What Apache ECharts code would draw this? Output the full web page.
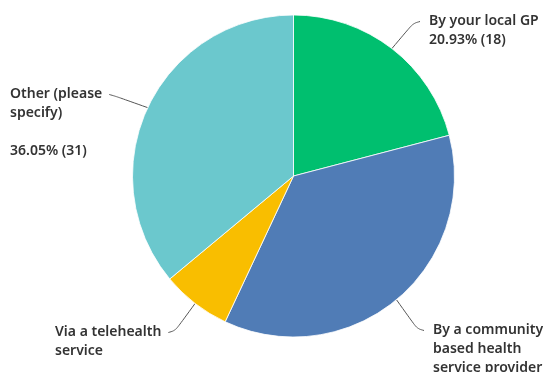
<!DOCTYPE html>
<html>
<head>
<meta charset="utf-8">
<script src="https://cdn.jsdelivr.net/npm/echarts@6/dist/echarts.min.js"></script>
<style>
  html, body { margin: 0; padding: 0; background: #fff; }
  #chart { width: 543px; height: 372px; }
</style>
</head>
<body>
<div id="chart"></div>
<script>
// Answer options (names wrapped the way they are printed) and response counts
const categories = [
  'By your local GP',
  'By a community\nbased health\nservice provider\n',
  'Via a telehealth\nservice\n',
  'Other (please\nspecify)\n'
];
const counts = [18, 31, 6, 31];
const colors = ['#00BF6F', '#507CB6', '#F9BE00', '#6BC8CD'];

const total = counts.reduce((a, b) => a + b, 0);

// Where each label block sits (left/top of the text) and which side it is on
const labelSpots = [
  { x: 429, y: 12, side: 'right' },
  { x: 433, y: 321, side: 'right' },
  { x: 55, y: 323, side: 'left' },
  { x: 10, y: 85, side: 'left' }
];
const LINE_H = 19;
const GAP = 9;

const chart = echarts.init(document.getElementById('chart'), null, { renderer: 'canvas' });

chart.setOption({
  animation: false,
  series: [{
    type: 'pie',
    center: [293.5, 176],
    radius: 161,
    startAngle: 90,
    clockwise: true,
    avoidLabelOverlap: false,
    itemStyle: { borderColor: '#ffffff', borderWidth: 0.8 },
    data: categories.map((name, i) => ({
      name: name,
      value: counts[i],
      itemStyle: { color: colors[i] }
    })),
    label: {
      show: true,
      color: '#333333',
      fontFamily: 'Noto Sans',
      fontWeight: 600,
      fontSize: 14,
      lineHeight: LINE_H,
      align: 'left',
      formatter: p => p.name + '\n' + (p.value / total * 100).toFixed(2) + '% (' + p.value + ')'
    },
    labelLine: {
      show: true,
      smooth: 0.35,
      length: 12,
      length2: 12,
      lineStyle: { color: '#555555', width: 1 }
    },
    labelLayout: function (params) {
      const s = labelSpots[params.dataIndex];
      // leader line: from the slice edge to the side of the first text line
      const start = params.labelLinePoints[0];
      const yEnd = s.y + LINE_H / 2;
      let xEnd, xMid;
      if (s.side === 'right') {
        xEnd = s.x - GAP;
        xMid = xEnd - 7;
      } else {
        xEnd = s.x + params.labelRect.width + GAP - 2;
        xMid = xEnd + 7;
      }
      return {
        x: s.x,
        y: s.y,
        align: 'left',
        verticalAlign: 'top',
        hideOverlap: false,
        labelLinePoints: [[start[0], start[1]], [xMid, yEnd + (start[1] > yEnd ? 2 : -2)], [xEnd, yEnd]]
      };
    }
  }]
});
</script>
</body>
</html>
